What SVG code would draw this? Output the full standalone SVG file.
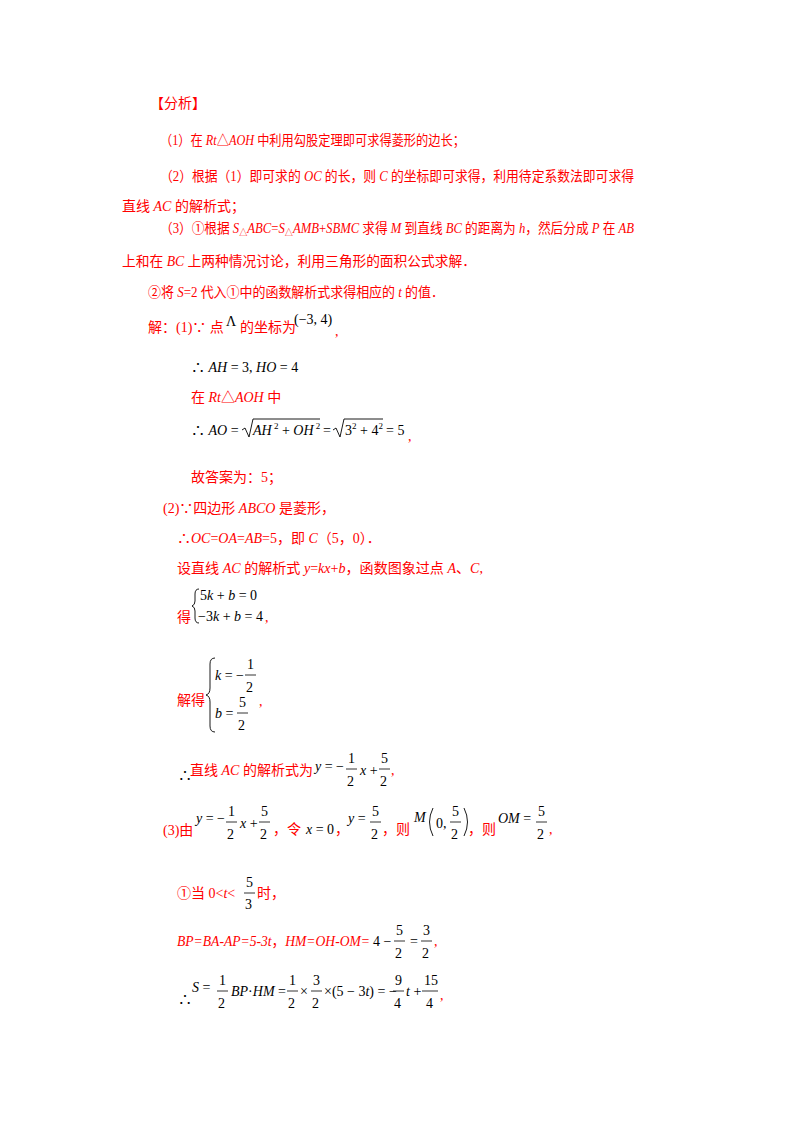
<svg xmlns="http://www.w3.org/2000/svg" width="800" height="1132" viewBox="0 0 800 1132">
<style>
text{font-family:"Liberation Serif","Noto Sans CJK SC",serif;font-size:14px}
.r{fill:#f00}
.k{fill:#000}
.i{font-style:italic}
.s{font-size:9px}
.f{stroke:#000;stroke-width:0.8}
.b{fill:none;stroke:#000;stroke-width:0.9}
</style>
<rect width="800" height="1132" fill="#fff"/>
<g id="analysis" class="r">
<text x="150" y="108" class="r">【分析】</text>
<text x="160" y="145" class="r" textLength="305" lengthAdjust="spacingAndGlyphs">（1）在 <tspan class="i">Rt</tspan>△<tspan class="i">AOH</tspan> 中利用勾股定理即可求得菱形的边长；</text>
<text x="160" y="181" class="r" textLength="474" lengthAdjust="spacingAndGlyphs">（2）根据（1）即可求的 <tspan class="i">OC</tspan> 的长，则 <tspan class="i">C</tspan> 的坐标即可求得，利用待定系数法即可求得</text>
<text x="122" y="211" class="r">直线 <tspan class="i">AC</tspan> 的解析式；</text>
<text x="160" y="233" class="r" textLength="474" lengthAdjust="spacingAndGlyphs">（3）①根据 <tspan class="i">S</tspan><tspan class="s" dy="3">△</tspan><tspan class="i" dy="-3">ABC</tspan>=<tspan class="i">S</tspan><tspan class="s" dy="3">△</tspan><tspan class="i" dy="-3">AMB</tspan>+<tspan class="i">SBMC</tspan> 求得 <tspan class="i">M</tspan> 到直线 <tspan class="i">BC</tspan> 的距离为 <tspan class="i">h</tspan>，然后分成 <tspan class="i">P</tspan> 在 <tspan class="i">AB</tspan></text>
<text x="122" y="266" class="r" textLength="354" lengthAdjust="spacingAndGlyphs">上和在 <tspan class="i">BC</tspan> 上两种情况讨论，利用三角形的面积公式求解．</text>
<text x="148" y="297" class="r" textLength="296" lengthAdjust="spacingAndGlyphs">②将 <tspan class="i">S</tspan>=2 代入①中的函数解析式求得相应的 <tspan class="i">t</tspan> 的值．</text>
</g>
<g id="part1">
<text x="148" y="332" class="r">解：(1)∵ 点</text>
<text x="226" y="326" class="k" font-size="11">Λ</text>
<text x="240" y="332" class="r">的坐标为</text>
<text x="294" y="324" class="k" font-size="15">(−3, 4)</text>
<text x="335" y="336" class="r">,</text>
<text x="191" y="372" class="k">∴ <tspan class="i">AH</tspan> = 3, <tspan class="i">HO</tspan> = 4</text>
<text x="191" y="402" class="r">在 <tspan class="i">Rt</tspan>△<tspan class="i">AOH</tspan> 中</text>
<text x="191" y="435" class="k">∴ <tspan class="i">AO</tspan> =</text>
<path class="b" d="M242 430 L245 428 L249 437 L253 419 L320 419"/>
<text x="253" y="435" class="k"><tspan class="i">AH</tspan><tspan class="s" dy="-6"> 2</tspan><tspan dy="6"> + </tspan><tspan class="i">OH</tspan><tspan class="s" dy="-6"> 2</tspan></text>
<text x="323" y="435" class="k">=</text>
<path class="b" d="M333 430 L336 428 L340 437 L344 419 L383 419"/>
<text x="345" y="435" class="k">3<tspan class="s" dy="-6">2</tspan><tspan dy="6"> + 4</tspan><tspan class="s" dy="-6">2</tspan></text>
<text x="386" y="435" class="k">= 5</text>
<text x="408" y="441" class="r">,</text>
<text x="191" y="482" class="r">故答案为：5；</text>
</g>
<g id="part2">
<text x="163" y="513" class="r">(2)∵四边形 <tspan class="i">ABCO</tspan> 是菱形，</text>
<text x="177" y="543" class="r">∴<tspan class="i">OC</tspan>=<tspan class="i">OA</tspan>=<tspan class="i">AB</tspan>=5，即 <tspan class="i">C</tspan>（5，0）．</text>
<text x="177" y="573" class="r" textLength="306" lengthAdjust="spacingAndGlyphs">设直线 <tspan class="i">AC</tspan> 的解析式 <tspan class="i">y</tspan>=<tspan class="i">kx</tspan>+<tspan class="i">b</tspan>，函数图象过点 <tspan class="i">A</tspan>、<tspan class="i">C</tspan>,</text>
<text x="177" y="622" class="r">得</text>
<path class="b" d="M199 589 Q195 589 195 594 L195 601 Q195 605 192 606 Q195 607 195 611 L195 618 Q195 623 199 623"/>
<text x="200" y="600" class="k">5<tspan class="i">k</tspan> + <tspan class="i">b</tspan> = 0</text>
<text x="198" y="621" class="k">−3<tspan class="i">k</tspan> + <tspan class="i">b</tspan> = 4</text>
<text x="265" y="622" class="r">,</text>
<text x="177" y="705" class="r">解得</text>
<path class="b" d="M215 658 Q210 658 210 664 L210 688 Q210 694 206 695 Q210 696 210 702 L210 726 Q210 732 215 732"/>
<text x="215" y="680" class="k"><tspan class="i">k</tspan> = −</text>
<text x="247" y="669" class="k">1</text><line class="f" x1="245" y1="675" x2="256" y2="675"/><text x="246" y="692" class="k">2</text>
<text x="215" y="718" class="k"><tspan class="i">b</tspan> =</text>
<text x="239" y="707" class="k">5</text><line class="f" x1="237" y1="713" x2="248" y2="713"/><text x="238" y="730" class="k">2</text>
<text x="259" y="706" class="r">,</text>
<text x="178" y="780" class="k">∴</text>
<text x="190" y="775" class="r">直线 <tspan class="i">AC</tspan> 的解析式为</text>
<text x="315" y="771" class="k"><tspan class="i">y</tspan> = −</text>
<text x="348" y="763" class="k">1</text><line class="f" x1="346" y1="769" x2="357" y2="769"/><text x="347" y="786" class="k">2</text>
<text x="360" y="775" class="k"><tspan class="i">x</tspan> +</text>
<text x="381" y="763" class="k">5</text><line class="f" x1="379" y1="769" x2="390" y2="769"/><text x="380" y="786" class="k">2</text>
<text x="391" y="775" class="r">,</text>
</g>
<g id="part3">
<text x="163" y="835" class="r">(3)由</text>
<text x="196" y="823" class="k"><tspan class="i">y</tspan> = −</text>
<text x="228" y="816" class="k">1</text><line class="f" x1="226" y1="822" x2="237" y2="822"/><text x="227" y="839" class="k">2</text>
<text x="240" y="828" class="k"><tspan class="i">x</tspan> +</text>
<text x="261" y="816" class="k">5</text><line class="f" x1="259" y1="822" x2="270" y2="822"/><text x="260" y="839" class="k">2</text>
<text x="273" y="834" class="r">，令</text>
<text x="306" y="834" class="k"><tspan class="i">x</tspan> = 0</text>
<text x="335" y="834" class="r">，</text>
<text x="348" y="823" class="k"><tspan class="i">y</tspan> =</text>
<text x="372" y="816" class="k">5</text><line class="f" x1="370" y1="822" x2="381" y2="822"/><text x="371" y="839" class="k">2</text>
<text x="382" y="834" class="r">，则</text>
<text x="414" y="822" class="k" font-style="italic">M</text>
<path class="b" d="M433 808 Q426 822 433 836"/>
<text x="436" y="828" class="k">0,</text>
<text x="452" y="816" class="k">5</text><line class="f" x1="450" y1="822" x2="461" y2="822"/><text x="451" y="839" class="k">2</text>
<path class="b" d="M464 808 Q471 822 464 836"/>
<text x="468" y="834" class="r">，则</text>
<text x="498" y="823" class="k"><tspan class="i">OM</tspan> =</text>
<text x="538" y="816" class="k">5</text><line class="f" x1="536" y1="822" x2="547" y2="822"/><text x="537" y="839" class="k">2</text>
<text x="549" y="834" class="r">,</text>
<text x="177" y="898" class="r">①当 0&lt;<tspan class="i">t</tspan>&lt;</text>
<text x="246" y="887" class="k">5</text><line class="f" x1="244" y1="893" x2="255" y2="893"/><text x="245" y="909" class="k">3</text>
<text x="257" y="898" class="r">时，</text>
<text x="177" y="946" class="r i" textLength="193" lengthAdjust="spacingAndGlyphs">BP=BA-AP=5-3<tspan class="i">t</tspan><tspan font-style="normal">，</tspan>HM=OH-OM=</text>
<text x="373" y="946" class="k">4 −</text>
<text x="396" y="935" class="k">5</text><line class="f" x1="394" y1="941" x2="405" y2="941"/><text x="395" y="958" class="k">2</text>
<text x="410" y="946" class="k">=</text>
<text x="423" y="935" class="k">3</text><line class="f" x1="421" y1="941" x2="432" y2="941"/><text x="422" y="958" class="k">2</text>
<text x="434" y="946" class="r">,</text>
<text x="178" y="1004" class="k">∴</text>
<text x="192" y="992" class="k"><tspan class="i">S</tspan> =</text>
<text x="219" y="985" class="k">1</text><line class="f" x1="217" y1="991" x2="228" y2="991"/><text x="218" y="1008" class="k">2</text>
<text x="231" y="996" class="k"><tspan class="i">BP</tspan>·<tspan class="i">HM</tspan> =</text>
<text x="289" y="985" class="k">1</text><line class="f" x1="287" y1="991" x2="298" y2="991"/><text x="288" y="1008" class="k">2</text>
<text x="300" y="996" class="k">×</text>
<text x="313" y="985" class="k">3</text><line class="f" x1="311" y1="991" x2="322" y2="991"/><text x="312" y="1008" class="k">2</text>
<text x="324" y="996" class="k">×(5 − 3<tspan class="i">t</tspan>) = −</text>
<text x="395" y="985" class="k">9</text><line class="f" x1="393" y1="991" x2="404" y2="991"/><text x="394" y="1008" class="k">4</text>
<text x="406" y="996" class="k"><tspan class="i">t</tspan> +</text>
<text x="424" y="985" class="k">15</text><line class="f" x1="422" y1="991" x2="438" y2="991"/><text x="426" y="1008" class="k">4</text>
<text x="440" y="1000" class="r">,</text>
</g>
</svg>
